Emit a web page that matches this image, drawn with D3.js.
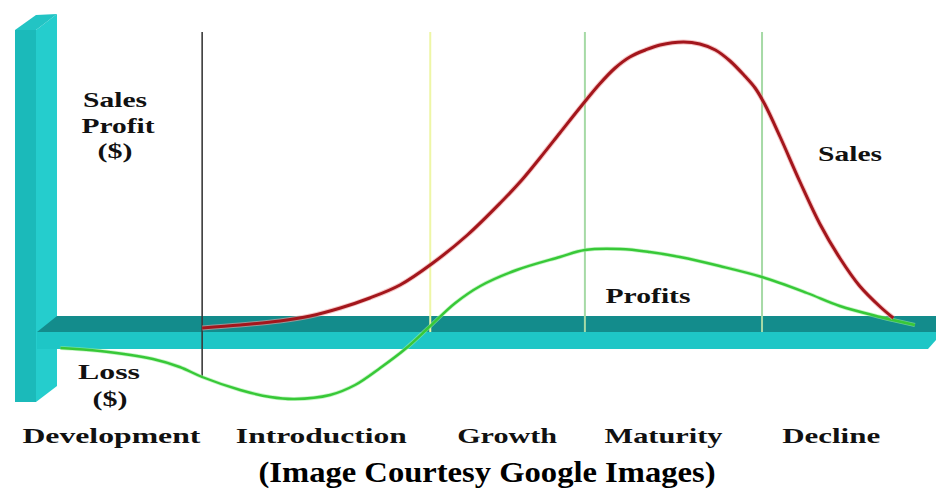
<!DOCTYPE html>
<html>
<head>
<meta charset="utf-8">
<script src="https://cdn.jsdelivr.net/npm/d3@7"></script>
<style>
  body { margin: 0; background: #fff; }
  text { font-family: "Liberation Serif", "Times New Roman", serif; font-weight: bold; fill: #111; }
</style>
</head>
<body>
<div id="chart"></div>
<script>
// stages of the product life cycle (x in time units 0..100)
const stages = ["Development", "Introduction", "Growth", "Maturity", "Decline"];
const stageLabelAt = [6.3, 30.6, 52.1, 70.2, 89.6];
const stageBounds = [16.8, 43.2, 61.1, 81.6];

// sales curve ($)
const salesT = [16.8, 21.2, 25.8, 29.3, 32.8, 36.2, 39.7, 43.5, 47.5, 51.3, 53.8, 55.9, 58.2, 60.5, 62.8, 64.6, 66.3, 68.1, 69.8, 72.5, 74.4, 76.2, 77.9, 79.6, 80.8, 81.9, 83.7, 86.0, 88.3, 90.6, 92.9, 95.3, 96.8];
const salesV = [4, 7, 11, 16, 24, 34, 47, 69, 97, 129, 152, 174, 199, 224, 248, 264, 275, 282, 287, 290, 288, 282, 271, 256, 244, 228, 195, 150, 108, 74, 46, 25, 14];

// profit curve ($)
const profitT = [0.4, 5.0, 11.1, 14.2, 16.8, 21.2, 24.7, 27.5, 31.6, 34.5, 37.4, 40.3, 43.2, 46.1, 49.0, 53.2, 58.2, 61.1, 65.2, 68.6, 72.1, 76.7, 81.6, 86.8, 90.6, 95.3, 99.3];
const profitV = [-16, -19, -27, -35, -45, -58, -65, -67, -63, -53, -36, -17, 6, 29, 46, 62, 75, 82, 83, 80, 75, 66, 55, 39, 26, 15, 7];

const boundColors = ["#3a3a3a", "#eef6a6", "#a6daa6", "#a6daa6"];

const W = 936, H = 498;
const svg = d3.select("#chart").append("svg")
  .attr("width", W).attr("height", H);

const x = d3.scaleLinear().domain([0, 100]).range([57, 921]);
const y = d3.scaleLinear().domain([-100, 300]).range([432, 32]);

// 3D axis bars
const dx = 21, dy = 16, thick = 17;
const y0 = y(0), x0 = x(0);
const vTop = y(300) - 2, vBottom = y0 + 70;

// vertical bar: side face, front face, top
svg.append("polygon")
  .attr("points", [[x0 - dx, vTop], [x0, vTop - dy], [x0, vBottom - dy], [x0 - dx, vBottom]].join(" "))
  .attr("fill", "#25cdcd");
svg.append("polygon")
  .attr("points", [[x0 - 2 * dx, vTop], [x0 - dx, vTop], [x0 - dx, vBottom], [x0 - 2 * dx, vBottom]].join(" "))
  .attr("fill", "#1bbaba");
svg.append("polygon")
  .attr("points", [[x0 - 2 * dx, vTop], [x0 - dx, vTop - dy + 1], [x0, vTop - dy], [x0 - dx, vTop]].join(" "))
  .attr("fill", "#22c4c4");

// horizontal bar: top face + front face
svg.append("polygon")
  .attr("points", [[x0 - dx + 1, y0], [x0, y0 - dy], [W, y0 - dy], [W, y0]].join(" "))
  .attr("fill", "#138c8c");
svg.append("polygon")
  .attr("points", [[x0 - dx + 1, y0], [W, y0], [W, y0 + 8], [W - 8, y0 + thick], [x0 - dx + 1, y0 + thick]].join(" "))
  .attr("fill", "#1ec6c6");

// stage boundaries
svg.selectAll("line.bound")
  .data(stageBounds)
  .enter()
  .append("line")
  .attr("class", "bound")
  .attr("x1", d => x(d)).attr("x2", d => x(d))
  .attr("y1", y(300))
  .attr("y2", (d, i) => i === 0 ? y(-46) : y(0))
  .attr("stroke", (d, i) => boundColors[i])
  .attr("stroke-width", (d, i) => i === 0 ? 1.6 : 2);

// curves
const line = d3.line()
  .x(d => x(d[0]))
  .y(d => y(d[1]))
  .curve(d3.curveCatmullRom.alpha(0.5));

const sales = salesT.map((t, i) => [t, salesV[i]]);
const profit = profitT.map((t, i) => [t, profitV[i]]);

svg.append("path").datum(profit).attr("d", line)
  .attr("fill", "none").attr("stroke", "#9df09d").attr("stroke-width", 4).attr("opacity", 0.6);
svg.append("path").datum(profit).attr("d", line)
  .attr("fill", "none").attr("stroke", "#38c838").attr("stroke-width", 2.4);

svg.append("path").datum(sales).attr("d", line)
  .attr("fill", "none").attr("stroke", "#f0a0a0").attr("stroke-width", 5).attr("opacity", 0.6);
svg.append("path").datum(sales).attr("d", line)
  .attr("fill", "none").attr("stroke", "#a3161c").attr("stroke-width", 3);

// text helper
function label(txt, cx, by, w, size) {
  svg.append("text")
    .attr("x", cx).attr("y", by)
    .attr("text-anchor", "middle")
    .attr("font-size", size || 21)
    .attr("textLength", w)
    .attr("lengthAdjust", "spacingAndGlyphs")
    .text(txt);
}

// y-axis labels
label("Sales", 115, 107, 64);
label("Profit", 118, 133, 73);
label("($)", 115, 158, 35);
label("Loss", 109, 379, 62);
label("($)", 110, 406, 35);

// curve labels
label("Sales", 850, 161, 64);
label("Profits", 648, 303, 85);

// stage labels
const stageWidths = [178, 171, 100, 118, 98];
stages.forEach((s, i) => label(s, x(stageLabelAt[i]), 443, stageWidths[i]));

// caption
svg.append("text")
  .attr("x", 487).attr("y", 482)
  .attr("text-anchor", "middle")
  .attr("font-size", 29)
  .attr("textLength", 457)
  .attr("lengthAdjust", "spacingAndGlyphs")
  .style("fill", "#000")
  .text("(Image Courtesy Google Images)");
</script>
</body>
</html>
